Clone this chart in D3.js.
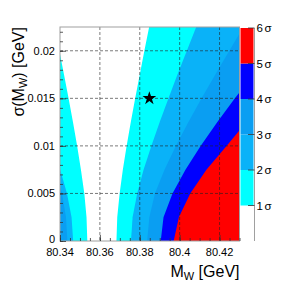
<!DOCTYPE html>
<html>
<head>
<meta charset="utf-8">
<script src="https://cdn.jsdelivr.net/npm/d3@7"></script>
<style>
	body { margin: 0; background: #fff; }
	text { font-family: 'Liberation Sans', Arial, sans-serif; fill: #000; }
</style>
</head>
<body>
<div id="chart"></div>
<script>
const sigmaSteps = [0, 0.0025, 0.005, 0.0075, 0.01, 0.0125, 0.015, 0.0175, 0.02, 0.0225]

// M_W edge of each n-sigma contour, left and right of the minimum
const left1 = [80.3537, 80.3533, 80.3522, 80.3505, 80.3486, 80.3465, 80.3443, 80.3420, 80.3397, 80.3374]
const left2 = [80.3466, 80.3458, 80.3435, 80.3401, 80.3362, 80.3320, 80.3276, 80.3231, 80.3184, 80.3137]
const left3 = [80.3437, 80.3430, 80.3410, 80.3378, 80.3338, 80.3290, 80.3240, 80.3190, 80.3140, 80.3090]
const right1 = [80.3683, 80.3687, 80.3699, 80.3715, 80.3734, 80.3755, 80.3777, 80.3800, 80.3823, 80.3847]
const right2 = [80.3756, 80.3764, 80.3787, 80.3819, 80.3858, 80.3900, 80.3944, 80.3989, 80.4036, 80.4083]
const right3 = [80.3837, 80.3848, 80.3876, 80.3924, 80.3981, 80.4044, 80.4110, 80.4179, 80.4249, 80.4320]
const right4 = [80.3905, 80.3919, 80.3964, 80.4029, 80.4105, 80.4189, 80.4277, 80.4368, 80.4462, 80.4556]
const right5 = [80.3970, 80.3996, 80.4053, 80.4134, 80.4235, 80.4334, 80.4444, 80.4558, 80.4675, 80.4793]

const levels = [1, 2, 3, 4, 5, 6]
const levelColors = ['#00ffff', '#0ab2f8', '#0a9ef2', '#0000ff', '#ff0000']

const xTicks = [80.34, 80.36, 80.38, 80.40, 80.42]
const xTickLabels = ['80.34', '80.36', '80.38', '80.4', '80.42']
const yTicks = [0, 0.005, 0.01, 0.015, 0.02]
const yTickLabels = ['0', '0.005', '0.01', '0.015', '0.02']

const bestPoint = [{ mw: 80.3848, sigma: 0.015 }]

// Layout
const width = 299
const height = 284
const plot = { left: 60, right: 239.5, top: 27, bottom: 241 }
const bar = { left: 240.5, right: 253.5, top: 28, bottom: 241 }

const x = d3.scaleLinear().domain([80.34, 80.43]).range([plot.left, plot.right])
const y = d3.scaleLinear().domain([0, 0.0225]).range([plot.bottom, plot.top])
const z = d3.scaleLinear().domain([0, 6]).range([bar.bottom, bar.top])

const svg =
	d3.select('#chart')
		.append('svg')
		.attr('width', width)
		.attr('height', height)

svg.append('defs')
	.append('clipPath')
	.attr('id', 'plot-clip')
	.append('rect')
	.attr('x', plot.left)
	.attr('y', plot.top)
	.attr('width', plot.right - plot.left)
	.attr('height', plot.bottom - plot.top)

const field =
	svg
		.append('g')
		.attr('clip-path', 'url(#plot-clip)')

field.append('rect')
	.attr('x', plot.left)
	.attr('y', plot.top)
	.attr('width', plot.right - plot.left)
	.attr('height', plot.bottom - plot.top)
	.attr('fill', '#fff')

// Contour bands, drawn from 1 sigma outwards
const rows = edges => sigmaSteps.map((s, i) => ({ s, m: edges[i] }))

const rightArea =
	d3.area()
		.y(d => y(d.s))
		.x0(d => x(d.m))
		.x1(plot.right + 5)

const leftArea =
	d3.area()
		.y(d => y(d.s))
		.x0(plot.left - 5)
		.x1(d => x(d.m))

const rightEdges = [right1, right2, right3, right4, right5]
const leftEdges = [left1, left2, left3]

rightEdges.forEach((edges, i) => {
	field.append('path')
		.attr('d', rightArea(rows(edges)))
		.attr('fill', levelColors[i])
	if (leftEdges[i]) {
		field.append('path')
			.attr('d', leftArea(rows(leftEdges[i])))
			.attr('fill', levelColors[i])
	}
})

// Grid
const grid = svg.append('g').attr('class', 'grid')

grid.selectAll('line.gx')
	.data(xTicks.slice(1))
	.enter()
	.append('line')
	.attr('x1', d => x(d))
	.attr('x2', d => x(d))
	.attr('y1', plot.top)
	.attr('y2', plot.bottom)

grid.selectAll('line.gy')
	.data(yTicks.slice(1))
	.enter()
	.append('line')
	.attr('x1', plot.left)
	.attr('x2', plot.right)
	.attr('y1', d => y(d))
	.attr('y2', d => y(d))

grid.selectAll('line')
	.attr('stroke', '#222')
	.attr('stroke-opacity', 0.75)
	.attr('stroke-width', 0.8)
	.attr('stroke-dasharray', '3,2')

// Frame
svg.append('rect')
	.attr('x', plot.left)
	.attr('y', plot.top)
	.attr('width', plot.right - plot.left)
	.attr('height', plot.bottom - plot.top)
	.attr('fill', 'none')
	.attr('stroke', '#a0a0a0')
	.attr('stroke-width', 1)

// Axes, ticks inside the frame
const xAxis =
	d3.axisTop(x)
		.tickValues(d3.range(80.34, 80.4301, 0.005))
		.tickSize(3)
		.tickFormat('')

const xAxisMajor =
	d3.axisTop(x)
		.tickValues(xTicks)
		.tickSize(6)
		.tickFormat('')

const yAxis =
	d3.axisRight(y)
		.tickValues(d3.range(0, 0.02251, 0.001))
		.tickSize(3)
		.tickFormat('')

const yAxisMajor =
	d3.axisRight(y)
		.tickValues(yTicks)
		.tickSize(6)
		.tickFormat('')

const axes = [
	[xAxis, `translate(0,${plot.bottom})`],
	[xAxisMajor, `translate(0,${plot.bottom})`],
	[yAxis, `translate(${plot.left},0)`],
	[yAxisMajor, `translate(${plot.left},0)`]
]

axes.forEach(([axis, transform]) => {
	const g = svg.append('g').attr('transform', transform).call(axis)
	g.select('.domain').remove()
	g.selectAll('line').attr('stroke', '#333').attr('stroke-width', 0.8)
})

svg.selectAll('text.xlabel')
	.data(xTicks)
	.enter()
	.append('text')
	.attr('class', 'xlabel')
	.attr('x', d => x(d))
	.attr('y', 255.5)
	.attr('text-anchor', 'middle')
	.attr('font-size', 11)
	.text((d, i) => xTickLabels[i])

svg.selectAll('text.ylabel')
	.data(yTicks)
	.enter()
	.append('text')
	.attr('class', 'ylabel')
	.attr('x', 55)
	.attr('y', d => d === 0 ? y(d) - 1.5 : y(d))
	.attr('dy', '0.35em')
	.attr('text-anchor', 'end')
	.attr('font-size', 11)
	.text((d, i) => yTickLabels[i])

// Axis titles
const xTitle =
	svg
		.append('text')
		.attr('x', plot.right)
		.attr('y', 277)
		.attr('text-anchor', 'end')
		.attr('font-size', 16)

xTitle.append('tspan').text('M')
xTitle.append('tspan').attr('font-size', 11).attr('dy', 3).text('W')
xTitle.append('tspan').attr('dy', -3).text(' [GeV]')

const yTitle =
	svg
		.append('text')
		.attr('transform', `translate(24,${plot.top}) rotate(-90)`)
		.attr('text-anchor', 'end')
		.attr('font-size', 16)

yTitle.append('tspan').text('σ(M')
yTitle.append('tspan').attr('font-size', 11).attr('dy', 3).text('W')
yTitle.append('tspan').attr('dy', -3).text(') [GeV]')

// Best point
svg.selectAll('path.best')
	.data(bestPoint)
	.enter()
	.append('path')
	.attr('class', 'best')
	.attr('d', d3.symbol(d3.symbolStar, 58))
	.attr('transform', d => `translate(${x(d.mw)},${y(d.sigma)})`)
	.attr('fill', '#000')

// 
// Palette
// 
const palette = svg.append('g').attr('class', 'palette')

palette.selectAll('rect')
	.data(levels.slice(0, 5))
	.enter()
	.append('rect')
	.attr('x', bar.left)
	.attr('y', d => z(d + 1))
	.attr('width', bar.right - bar.left)
	.attr('height', d => z(d) - z(d + 1))
	.attr('fill', (d, i) => levelColors[i])

palette.append('line')
	.attr('x1', 254.5)
	.attr('x2', 254.5)
	.attr('y1', bar.top)
	.attr('y2', bar.bottom)
	.attr('stroke', '#a0a0a0')

palette.selectAll('line.tick')
	.data(levels)
	.enter()
	.append('line')
	.attr('class', 'tick')
	.attr('x1', 248)
	.attr('x2', 254.5)
	.attr('y1', d => z(d))
	.attr('y2', d => z(d))
	.attr('stroke', '#333')
	.attr('stroke-width', 0.8)

const levelLabels =
	palette.selectAll('text')
		.data(levels)
		.enter()
		.append('text')
		.attr('x', 256.5)
		.attr('y', d => z(d))
		.attr('dy', '0.35em')
		.attr('font-size', 11.5)

levelLabels.append('tspan').text(d => d)
levelLabels.append('tspan').attr('dx', 1.5).text('σ')
</script>
</body>
</html>
